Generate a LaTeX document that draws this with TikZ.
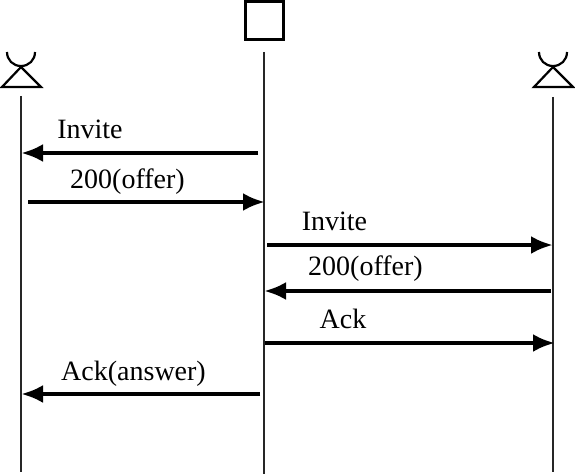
\documentclass[tikz,border=0pt]{standalone}
\usepackage{fontspec}
\setmainfont{Liberation Serif}
\usetikzlibrary{arrows.meta}
\begin{document}
\begin{tikzpicture}[
x=1pt, y=-1pt,
lifeline/.style={draw=black!85, line width=2pt},
message/.style={line width=4.2pt, -{Latex[length=22pt,width=18pt]}, shorten >=-1pt},
actorline/.style={line width=2.2pt},
serverbox/.style={rectangle, draw, line width=2.6pt, minimum size=38.5pt, inner sep=0pt},
msglabel/.style={font=\fontsize{28pt}{29pt}\selectfont, inner sep=0pt, anchor=base},
]
\useasboundingbox (0,0) rectangle (575,476);

%Nodes
\node[serverbox] (server) at (264.5,20.5) {};
\node[msglabel] (invitea) at (90,138) {Invite};
\node[msglabel] (offera) at (127.5,188) {200(offer)};
\node[msglabel] (inviteb) at (334.5,230) {Invite};
\node[msglabel] (offerb) at (365.5,275) {200(offer)};
\node[msglabel] (ackb) at (343,328) {Ack};
\node[msglabel] (acka) at (133.5,380) {Ack(answer)};

%Ends of the lifelines
\coordinate (lefttop) at (21,96);
\coordinate (leftbot) at (21,472);
\coordinate (midtop) at (264,52);
\coordinate (midbot) at (264,474);
\coordinate (righttop) at (553,97);
\coordinate (rightbot) at (553,472);

%Ends of the messages
\coordinate (m1a) at (258,153);
\coordinate (m1b) at (22,153);
\coordinate (m2a) at (28,202);
\coordinate (m2b) at (264,202);
\coordinate (m3a) at (267,245);
\coordinate (m3b) at (552,245);
\coordinate (m4a) at (551,291);
\coordinate (m4b) at (265,291);
\coordinate (m5a) at (265,343);
\coordinate (m5b) at (554,343);
\coordinate (m6a) at (260,394);
\coordinate (m6b) at (22,394);

%Actors
\draw[actorline] (7,52) .. controls (7,60) and (13,66) .. (21,66) .. controls (29,66) and (35,60) .. (35,52);
\draw[actorline, line join=miter] (21,67) -- (2,87) -- (41,87) -- cycle;
\draw[actorline] (539,52) .. controls (539,60) and (545,66) .. (553,66) .. controls (561,66) and (567,60) .. (567,52);
\draw[actorline, line join=miter] (553,67) -- (534,87) -- (573,87) -- cycle;

%Lines
\draw[lifeline] (lefttop) -- (leftbot);
\draw[lifeline] (midtop) -- (midbot);
\draw[lifeline] (righttop) -- (rightbot);

\draw[message] (m1a) -- (m1b);
\draw[message] (m2a) -- (m2b);
\draw[message] (m3a) -- (m3b);
\draw[message] (m4a) -- (m4b);
\draw[message] (m5a) -- (m5b);
\draw[message] (m6a) -- (m6b);
\end{tikzpicture}
\end{document}
